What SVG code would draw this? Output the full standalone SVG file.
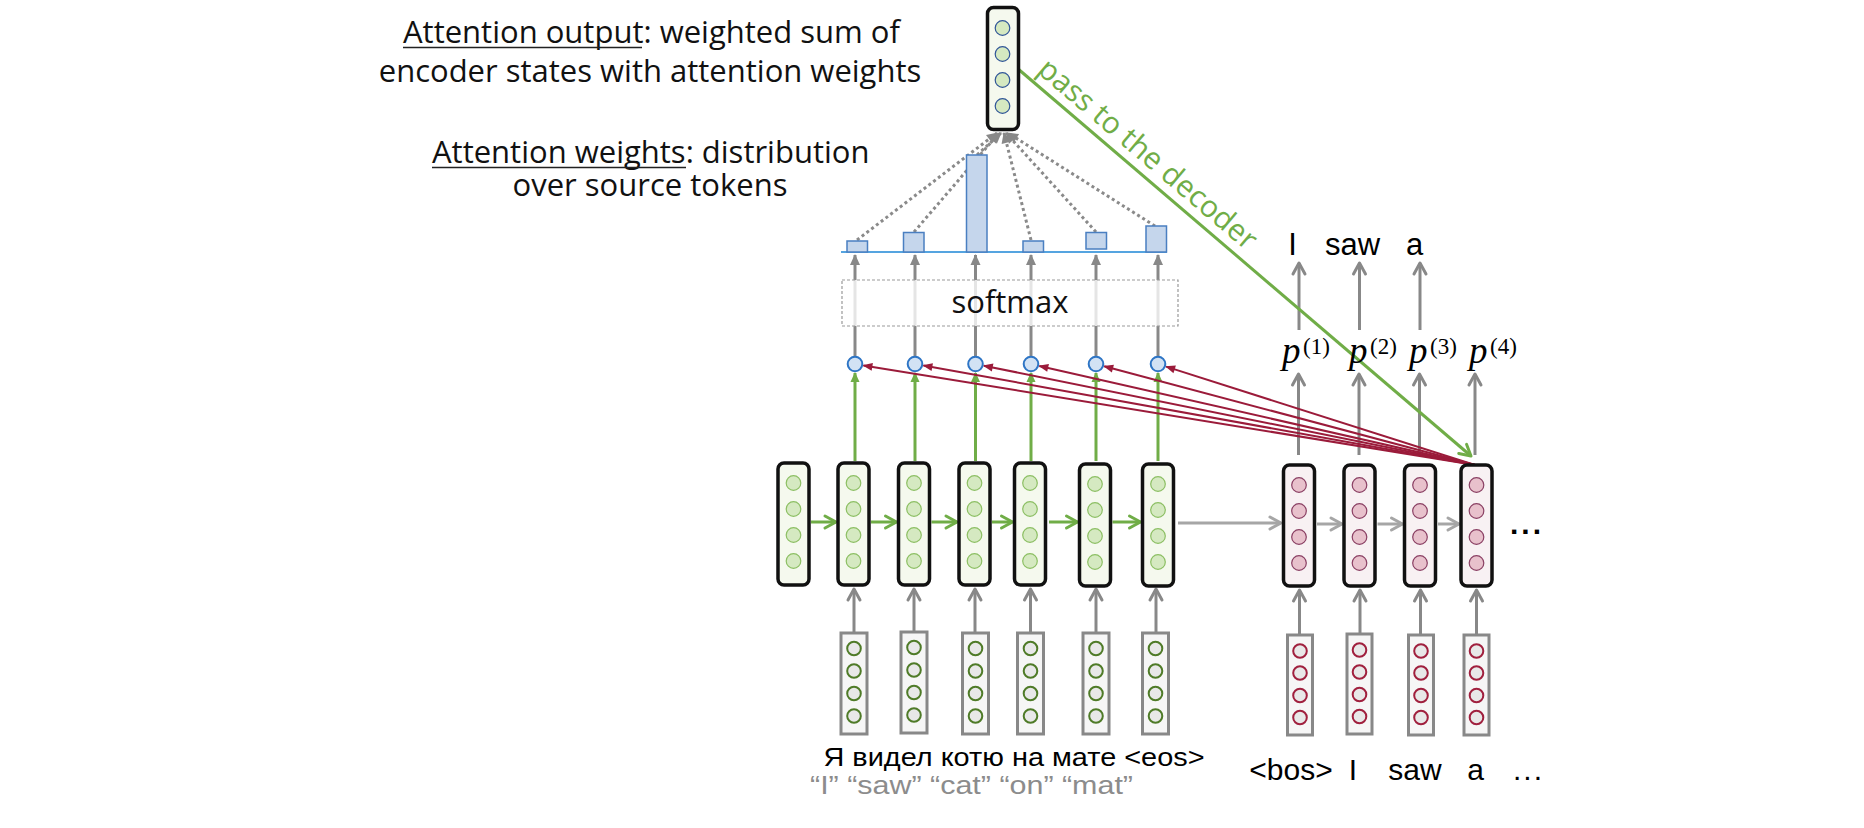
<svg xmlns="http://www.w3.org/2000/svg" width="1864" height="828" viewBox="0 0 1864 828">
<style>
.ebox{fill:#f5f9ee;stroke:#111;stroke-width:3.5}
.ecirc{fill:#d5e9c1;stroke:#8cbf63;stroke-width:1.2}
.ocirc{fill:#d5e9c1;stroke:#2f5597;stroke-width:1.2}
.dbox{fill:#f8f1f3;stroke:#111;stroke-width:3.5}
.dcirc{fill:#e8c1cc;stroke:#8a3f63;stroke-width:1.2}
.emb{fill:#f6f6f6;stroke:#888;stroke-width:3}
.eemb{fill:#e8e8e8;stroke:#4f7b28;stroke-width:2}
.demb{fill:#e8e8e8;stroke:#a0203e;stroke-width:2}
.score{fill:#d2e2f4;stroke:#2e75c5;stroke-width:2}
.bar{fill:#c5d6ec;stroke:#4a7fc1;stroke-width:1.5}
.up{stroke:#888;stroke-width:3;fill:none;marker-end:url(#gOpen)}
.sm{stroke:#888;stroke-width:3;fill:none;marker-end:url(#gFill)}
.dot{stroke:#8a8a8a;stroke-width:3;stroke-dasharray:3 3;fill:none;marker-end:url(#gFill)}
.gh{stroke:#70ad47;stroke-width:3;fill:none;marker-end:url(#greenOpen)}
.gv{stroke:#70ad47;stroke-width:3;fill:none;marker-end:url(#greenFill)}
.lh{stroke:#a6a6a6;stroke-width:3;fill:none;marker-end:url(#lgOpen)}
.red{stroke:#9b1b3a;stroke-width:2;fill:none;marker-end:url(#redFill)}
.cap{font-family:"Open Sans","Noto Sans",sans-serif;font-size:31px;fill:#111}
.mid{text-anchor:middle}
.ul{stroke:#222;stroke-width:1.5}
.tok{font-family:"Liberation Sans",Arial,sans-serif;fill:#000}
.pm{font-family:"Liberation Serif","Times New Roman",serif;fill:#000}
</style>
<defs>
<marker id="gOpen" viewBox="-14 -9 16 18" refX="0" refY="0" markerWidth="16" markerHeight="18" orient="auto" markerUnits="userSpaceOnUse" style="overflow:visible"><path d="M-11,-6 L0,0 L-11,6" fill="none" stroke="#888" stroke-width="3" stroke-linecap="round" stroke-linejoin="round"/></marker>
<marker id="lgOpen" viewBox="-14 -9 16 18" refX="0" refY="0" markerWidth="16" markerHeight="18" orient="auto" markerUnits="userSpaceOnUse" style="overflow:visible"><path d="M-11,-6 L0,0 L-11,6" fill="none" stroke="#a6a6a6" stroke-width="3" stroke-linecap="round" stroke-linejoin="round"/></marker>
<marker id="greenOpen" viewBox="-14 -9 16 18" refX="0" refY="0" markerWidth="16" markerHeight="18" orient="auto" markerUnits="userSpaceOnUse" style="overflow:visible"><path d="M-11,-6 L0,0 L-11,6" fill="none" stroke="#70ad47" stroke-width="3" stroke-linecap="round" stroke-linejoin="round"/></marker>
<marker id="gFill" viewBox="-12 -7 14 14" refX="0" refY="0" markerWidth="14" markerHeight="14" orient="auto" markerUnits="userSpaceOnUse" style="overflow:visible"><path d="M-10,-5 L1,0 L-10,5 Z" fill="#888"/></marker>
<marker id="greenFill" viewBox="-12 -7 14 14" refX="0" refY="0" markerWidth="14" markerHeight="14" orient="auto" markerUnits="userSpaceOnUse" style="overflow:visible"><path d="M-9,-4.5 L1,0 L-9,4.5 Z" fill="#70ad47"/></marker>
<marker id="redFill" viewBox="-12 -7 14 14" refX="0" refY="0" markerWidth="14" markerHeight="14" orient="auto" markerUnits="userSpaceOnUse" style="overflow:visible"><path d="M-9,-4 L1,0 L-9,4 Z" fill="#9b1b3a"/></marker>
</defs>
<rect width="1864" height="828" fill="#fff"/>

<g id="connectors">
  <line class="up" x1="854" y1="632" x2="854" y2="589"/>
  <line class="up" x1="914" y1="632" x2="914" y2="589"/>
  <line class="up" x1="975" y1="632" x2="975" y2="589"/>
  <line class="up" x1="1030.5" y1="632" x2="1030.5" y2="589"/>
  <line class="up" x1="1096" y1="632" x2="1096" y2="589"/>
  <line class="up" x1="1156" y1="632" x2="1156" y2="589"/>
  <line class="up" x1="1299.5" y1="634" x2="1299.5" y2="590"/>
  <line class="up" x1="1360" y1="634" x2="1360" y2="590"/>
  <line class="up" x1="1420.5" y1="634" x2="1420.5" y2="590"/>
  <line class="up" x1="1476.5" y1="634" x2="1476.5" y2="590"/>
  <line class="gh" x1="811" y1="522" x2="836" y2="522"/>
  <line class="gh" x1="871" y1="522" x2="896.5" y2="522"/>
  <line class="gh" x1="931.5" y1="522" x2="957" y2="522"/>
  <line class="gh" x1="992" y1="522" x2="1012.5" y2="522"/>
  <line class="gh" x1="1049" y1="522" x2="1077.5" y2="522"/>
  <line class="gh" x1="1112.5" y1="522" x2="1140.5" y2="522"/>
  <line class="lh" x1="1178" y1="523" x2="1281" y2="523"/>
  <line class="lh" x1="1317" y1="524" x2="1342" y2="524"/>
  <line class="lh" x1="1377.5" y1="524" x2="1402.5" y2="524"/>
  <line class="lh" x1="1438" y1="524" x2="1459" y2="524"/>
  <line class="up" x1="1298.5" y1="455" x2="1298.5" y2="374"/>
  <line class="up" x1="1359" y1="455" x2="1359" y2="374"/>
  <line class="up" x1="1419.5" y1="455" x2="1419.5" y2="374"/>
  <line class="up" x1="1475" y1="455" x2="1475" y2="374"/>
  <line class="up" x1="1299" y1="330" x2="1299" y2="263"/>
  <line class="up" x1="1359.5" y1="330" x2="1359.5" y2="263"/>
  <line class="up" x1="1420" y1="330" x2="1420" y2="263"/>
  <line class="gv" x1="855" y1="461" x2="855" y2="373"/>
  <line class="gv" x1="915" y1="461" x2="915" y2="373"/>
  <line class="gv" x1="975.5" y1="461" x2="975.5" y2="373"/>
  <line class="gv" x1="1031" y1="461" x2="1031" y2="373"/>
  <line class="gv" x1="1096" y1="461" x2="1096" y2="373"/>
  <line class="gv" x1="1158" y1="461" x2="1158" y2="373"/>
  <line class="red" x1="1475" y1="465" x2="863.4" y2="365.4"/>
  <line class="red" x1="1475" y1="465" x2="923.4" y2="365.5"/>
  <line class="red" x1="1475" y1="465" x2="983.8" y2="365.7"/>
  <line class="red" x1="1475" y1="465" x2="1039.3" y2="365.9"/>
  <line class="red" x1="1475" y1="465" x2="1104.2" y2="366.2"/>
  <line class="red" x1="1475" y1="465" x2="1166.1" y2="366.6"/>
  <line class="sm" x1="855" y1="356" x2="855" y2="255"/>
  <line class="sm" x1="915" y1="356" x2="915" y2="255"/>
  <line class="sm" x1="975.5" y1="356" x2="975.5" y2="255"/>
  <line class="sm" x1="1031" y1="356" x2="1031" y2="255"/>
  <line class="sm" x1="1096" y1="356" x2="1096" y2="255"/>
  <line class="sm" x1="1158" y1="356" x2="1158" y2="255"/>
  <line class="dot" x1="857" y1="240" x2="997" y2="133"/>
  <line class="dot" x1="914" y1="232" x2="999" y2="133"/>
  <line class="dot" x1="977" y1="155" x2="1001" y2="133"/>
  <line class="dot" x1="1031" y1="240" x2="1004" y2="133"/>
  <line class="dot" x1="1096" y1="232" x2="1006" y2="133"/>
  <line class="dot" x1="1155" y1="226" x2="1008" y2="133"/>
  <line class="gh" x1="1017" y1="68" x2="1471" y2="456"/>
</g>

<g id="softmax">
  <rect x="842" y="280" width="336" height="46" fill="#fff" fill-opacity="0.78" stroke="#999" stroke-width="1.2" stroke-dasharray="3 2"/>
  <text x="1010" y="313" font-family="'Open Sans','Noto Sans',sans-serif" font-size="31" fill="#111" text-anchor="middle">softmax</text>
</g>

<g id="attention-weights">
  <line x1="841" y1="252" x2="1167" y2="252" stroke="#55a4e0" stroke-width="2"/>
  <rect class="bar" x="847" y="241" width="20.5" height="11"/>
  <rect class="bar" x="903.5" y="232.5" width="20.5" height="19.5"/>
  <rect class="bar" x="966.5" y="155" width="20.5" height="97"/>
  <rect class="bar" x="1023" y="241" width="20.5" height="11"/>
  <rect class="bar" x="1086" y="232.5" width="20.5" height="16.5"/>
  <rect class="bar" x="1146" y="226" width="20.5" height="26"/>
</g>

<g id="scores">
  <circle class="score" cx="855" cy="364" r="7.3"/>
  <circle class="score" cx="915" cy="364" r="7.3"/>
  <circle class="score" cx="975.5" cy="364" r="7.3"/>
  <circle class="score" cx="1031" cy="364" r="7.3"/>
  <circle class="score" cx="1096" cy="364" r="7.3"/>
  <circle class="score" cx="1158" cy="364" r="7.3"/>
</g>

<g id="attention-output">
  <rect class="ebox" x="987.5" y="7.5" width="31" height="122" rx="6"/>
  <circle class="ocirc" cx="1002.5" cy="28" r="7.3"/>
  <circle class="ocirc" cx="1002.5" cy="54" r="7.3"/>
  <circle class="ocirc" cx="1002.5" cy="80" r="7.3"/>
  <circle class="ocirc" cx="1002.5" cy="106" r="7.3"/>
</g>

<g id="encoder-states">
  <g id="enc0"><rect class="ebox" x="778" y="463" width="31" height="122" rx="6"/><circle class="ecirc" cx="793.5" cy="483" r="7.3"/><circle class="ecirc" cx="793.5" cy="509" r="7.3"/><circle class="ecirc" cx="793.5" cy="535" r="7.3"/><circle class="ecirc" cx="793.5" cy="561" r="7.3"/></g>
  <g id="enc1"><rect class="ebox" x="838" y="463" width="31" height="122" rx="6"/><circle class="ecirc" cx="853.5" cy="483" r="7.3"/><circle class="ecirc" cx="853.5" cy="509" r="7.3"/><circle class="ecirc" cx="853.5" cy="535" r="7.3"/><circle class="ecirc" cx="853.5" cy="561" r="7.3"/></g>
  <g id="enc2"><rect class="ebox" x="898.5" y="463" width="31" height="122" rx="6"/><circle class="ecirc" cx="914" cy="483" r="7.3"/><circle class="ecirc" cx="914" cy="509" r="7.3"/><circle class="ecirc" cx="914" cy="535" r="7.3"/><circle class="ecirc" cx="914" cy="561" r="7.3"/></g>
  <g id="enc3"><rect class="ebox" x="959" y="463" width="31" height="122" rx="6"/><circle class="ecirc" cx="974.5" cy="483" r="7.3"/><circle class="ecirc" cx="974.5" cy="509" r="7.3"/><circle class="ecirc" cx="974.5" cy="535" r="7.3"/><circle class="ecirc" cx="974.5" cy="561" r="7.3"/></g>
  <g id="enc4"><rect class="ebox" x="1014.5" y="463" width="31" height="122" rx="6"/><circle class="ecirc" cx="1030" cy="483" r="7.3"/><circle class="ecirc" cx="1030" cy="509" r="7.3"/><circle class="ecirc" cx="1030" cy="535" r="7.3"/><circle class="ecirc" cx="1030" cy="561" r="7.3"/></g>
  <g id="enc5"><rect class="ebox" x="1079.5" y="464" width="31" height="122" rx="6"/><circle class="ecirc" cx="1095" cy="484" r="7.3"/><circle class="ecirc" cx="1095" cy="510" r="7.3"/><circle class="ecirc" cx="1095" cy="536" r="7.3"/><circle class="ecirc" cx="1095" cy="562" r="7.3"/></g>
  <g id="enc6"><rect class="ebox" x="1142.5" y="464" width="31" height="122" rx="6"/><circle class="ecirc" cx="1158" cy="484" r="7.3"/><circle class="ecirc" cx="1158" cy="510" r="7.3"/><circle class="ecirc" cx="1158" cy="536" r="7.3"/><circle class="ecirc" cx="1158" cy="562" r="7.3"/></g>
</g>

<g id="encoder-embeddings">
  <g id="eemb1"><rect class="emb" x="841" y="633" width="26" height="101"/><circle class="eemb" cx="854" cy="648.5" r="6.8"/><circle class="eemb" cx="854" cy="671" r="6.8"/><circle class="eemb" cx="854" cy="693.5" r="6.8"/><circle class="eemb" cx="854" cy="716" r="6.8"/></g>
  <g id="eemb2"><rect class="emb" x="901" y="632" width="26" height="101"/><circle class="eemb" cx="914" cy="647.5" r="6.8"/><circle class="eemb" cx="914" cy="670" r="6.8"/><circle class="eemb" cx="914" cy="692.5" r="6.8"/><circle class="eemb" cx="914" cy="715" r="6.8"/></g>
  <g id="eemb3"><rect class="emb" x="962.5" y="633" width="26" height="101"/><circle class="eemb" cx="975.5" cy="648.5" r="6.8"/><circle class="eemb" cx="975.5" cy="671" r="6.8"/><circle class="eemb" cx="975.5" cy="693.5" r="6.8"/><circle class="eemb" cx="975.5" cy="716" r="6.8"/></g>
  <g id="eemb4"><rect class="emb" x="1017.5" y="633" width="26" height="101"/><circle class="eemb" cx="1030.5" cy="648.5" r="6.8"/><circle class="eemb" cx="1030.5" cy="671" r="6.8"/><circle class="eemb" cx="1030.5" cy="693.5" r="6.8"/><circle class="eemb" cx="1030.5" cy="716" r="6.8"/></g>
  <g id="eemb5"><rect class="emb" x="1083" y="633" width="26" height="101"/><circle class="eemb" cx="1096" cy="648.5" r="6.8"/><circle class="eemb" cx="1096" cy="671" r="6.8"/><circle class="eemb" cx="1096" cy="693.5" r="6.8"/><circle class="eemb" cx="1096" cy="716" r="6.8"/></g>
  <g id="eemb6"><rect class="emb" x="1142.5" y="633" width="26" height="101"/><circle class="eemb" cx="1155.5" cy="648.5" r="6.8"/><circle class="eemb" cx="1155.5" cy="671" r="6.8"/><circle class="eemb" cx="1155.5" cy="693.5" r="6.8"/><circle class="eemb" cx="1155.5" cy="716" r="6.8"/></g>
</g>

<g id="decoder-states">
  <g id="dec1"><rect class="dbox" x="1283.5" y="465" width="31" height="121" rx="6"/><circle class="dcirc" cx="1299" cy="485" r="7.3"/><circle class="dcirc" cx="1299" cy="511" r="7.3"/><circle class="dcirc" cx="1299" cy="537" r="7.3"/><circle class="dcirc" cx="1299" cy="563" r="7.3"/></g>
  <g id="dec2"><rect class="dbox" x="1344" y="465" width="31" height="121" rx="6"/><circle class="dcirc" cx="1359.5" cy="485" r="7.3"/><circle class="dcirc" cx="1359.5" cy="511" r="7.3"/><circle class="dcirc" cx="1359.5" cy="537" r="7.3"/><circle class="dcirc" cx="1359.5" cy="563" r="7.3"/></g>
  <g id="dec3"><rect class="dbox" x="1404.5" y="465" width="31" height="121" rx="6"/><circle class="dcirc" cx="1420" cy="485" r="7.3"/><circle class="dcirc" cx="1420" cy="511" r="7.3"/><circle class="dcirc" cx="1420" cy="537" r="7.3"/><circle class="dcirc" cx="1420" cy="563" r="7.3"/></g>
  <g id="dec4"><rect class="dbox" x="1461" y="465" width="31" height="121" rx="6"/><circle class="dcirc" cx="1476.5" cy="485" r="7.3"/><circle class="dcirc" cx="1476.5" cy="511" r="7.3"/><circle class="dcirc" cx="1476.5" cy="537" r="7.3"/><circle class="dcirc" cx="1476.5" cy="563" r="7.3"/></g>
</g>

<g id="decoder-embeddings">
  <g id="demb1"><rect class="emb" x="1287.5" y="635" width="25" height="100"/><circle class="demb" cx="1300" cy="651" r="6.8"/><circle class="demb" cx="1300" cy="673" r="6.8"/><circle class="demb" cx="1300" cy="695.5" r="6.8"/><circle class="demb" cx="1300" cy="717.5" r="6.8"/></g>
  <g id="demb2"><rect class="emb" x="1347" y="634" width="25" height="100"/><circle class="demb" cx="1359.5" cy="650" r="6.8"/><circle class="demb" cx="1359.5" cy="672" r="6.8"/><circle class="demb" cx="1359.5" cy="694.5" r="6.8"/><circle class="demb" cx="1359.5" cy="716.5" r="6.8"/></g>
  <g id="demb3"><rect class="emb" x="1408.5" y="635" width="25" height="100"/><circle class="demb" cx="1421" cy="651" r="6.8"/><circle class="demb" cx="1421" cy="673" r="6.8"/><circle class="demb" cx="1421" cy="695.5" r="6.8"/><circle class="demb" cx="1421" cy="717.5" r="6.8"/></g>
  <g id="demb4"><rect class="emb" x="1464" y="635" width="25" height="100"/><circle class="demb" cx="1476.5" cy="651" r="6.8"/><circle class="demb" cx="1476.5" cy="673" r="6.8"/><circle class="demb" cx="1476.5" cy="695.5" r="6.8"/><circle class="demb" cx="1476.5" cy="717.5" r="6.8"/></g>
</g>

<g id="labels">
  <text class="cap" x="403" y="43">Attention output: weighted sum of</text>
  <line class="ul" x1="403" y1="47.5" x2="642" y2="47.5"/>
  <text class="cap mid" x="650" y="81.5">encoder states with attention weights</text>
  <text class="cap" x="432" y="163">Attention weights: distribution</text>
  <line class="ul" x1="432" y1="167.5" x2="686" y2="167.5"/>
  <text class="cap mid" x="650" y="196">over source tokens</text>

  <text x="1036" y="72" transform="rotate(40.4 1036 72)" font-family="'Open Sans','Noto Sans',sans-serif" font-size="30" fill="#70ad47">pass to the decoder</text>

  <text class="tok" x="1292.5" y="255" font-size="31" text-anchor="middle">I</text>
  <text class="tok" x="1352.5" y="255" font-size="31" text-anchor="middle">saw</text>
  <text class="tok" x="1414.5" y="255" font-size="31" text-anchor="middle">a</text>

  <text class="pm" x="1282" y="363" font-size="37" font-style="italic">p</text>
  <text class="pm" x="1303" y="354" font-size="23">(1)</text>
  <text class="pm" x="1349" y="363" font-size="37" font-style="italic">p</text>
  <text class="pm" x="1370" y="354" font-size="23">(2)</text>
  <text class="pm" x="1409" y="363" font-size="37" font-style="italic">p</text>
  <text class="pm" x="1430" y="354" font-size="23">(3)</text>
  <text class="pm" x="1469" y="363" font-size="37" font-style="italic">p</text>
  <text class="pm" x="1490" y="354" font-size="23">(4)</text>

  <text class="tok" x="1510" y="534" font-size="30" font-weight="bold" letter-spacing="3">...</text>

  <text class="tok" x="823.5" y="765.5" font-size="26" textLength="381" lengthAdjust="spacingAndGlyphs">Я видел котю на мате &lt;eos&gt;</text>
  <text class="tok" x="810" y="794" font-size="25" style="fill:#8c8c8c" textLength="323" lengthAdjust="spacingAndGlyphs">“I” “saw” “cat” “on” “mat”</text>

  <text class="tok" x="1291" y="780" font-size="30" text-anchor="middle">&lt;bos&gt;</text>
  <text class="tok" x="1353" y="780" font-size="30" text-anchor="middle">I</text>
  <text class="tok" x="1415" y="780" font-size="30" text-anchor="middle">saw</text>
  <text class="tok" x="1475.5" y="780" font-size="30" text-anchor="middle">a</text>
  <text class="tok" x="1513" y="780" font-size="30" letter-spacing="2">...</text>
</g>
</svg>
